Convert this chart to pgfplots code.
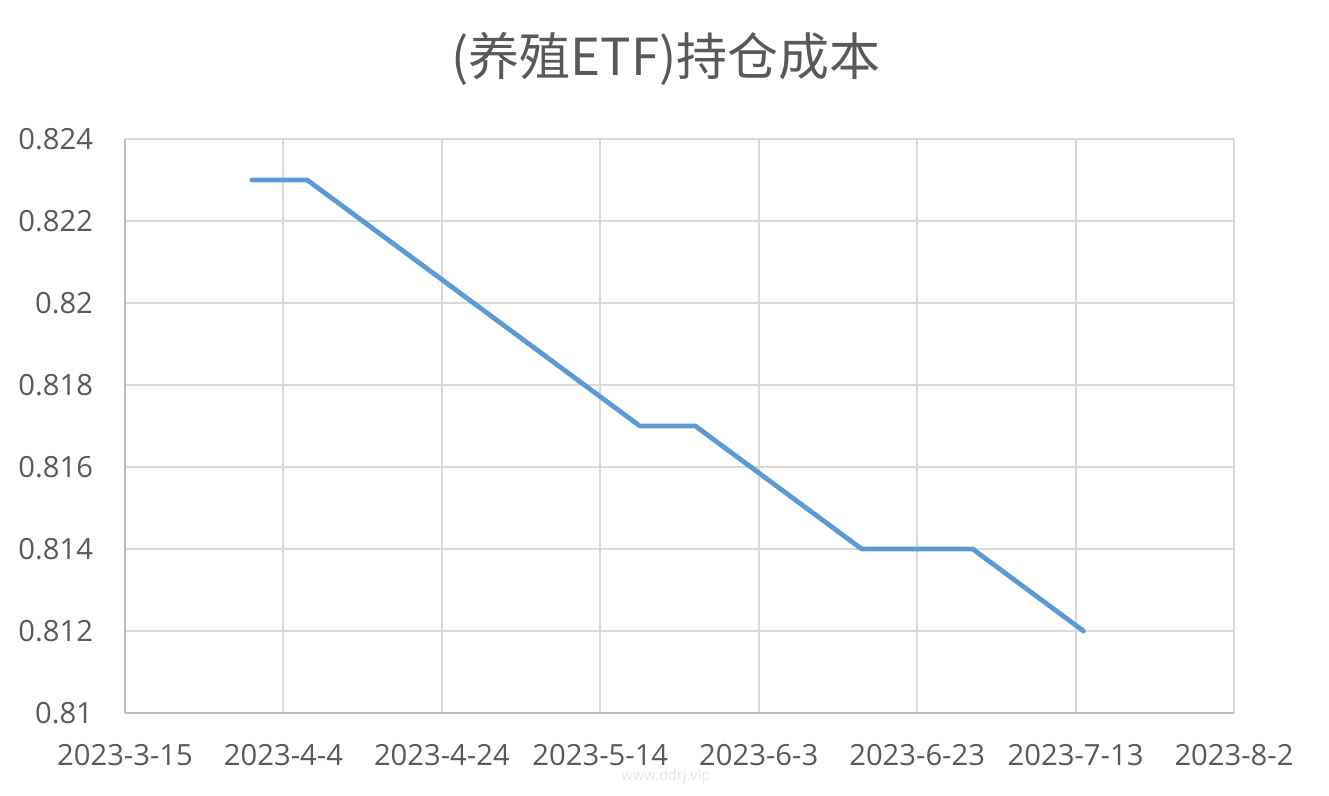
\documentclass[border=0pt]{standalone}
\usepackage{pgfplots}
\pgfplotsset{compat=1.18}
\usepackage{fontspec}
\setmainfont{Open Sans}
\newfontfamily\cjk{Noto Sans CJK SC}
\definecolor{txt}{HTML}{595959}
\definecolor{gridc}{HTML}{D9D9D9}
\definecolor{axc}{HTML}{BFBFBF}
\definecolor{line}{HTML}{5B9BD5}
\begin{document}
\begin{tikzpicture}
\useasboundingbox (-62.5pt,-41.5pt) rectangle (602pt,356.5pt);
\begin{axis}[
  at={(0,0)}, anchor=origin,
  scale only axis,
  width=554.5pt, height=287pt,
  xmin=0, xmax=140, ymin=0.81, ymax=0.824,
  xtick={0,20,...,140},
  xticklabels={2023-3-15,2023-4-4,2023-4-24,2023-5-14,2023-6-3,2023-6-23,2023-7-13,2023-8-2},
  ytick={0.81,0.812,0.814,0.816,0.818,0.82,0.822,0.824},
  yticklabels={0.81,0.812,0.814,0.816,0.818,0.82,0.822,0.824},
  grid=major,
  major grid style={gridc, line width=1pt},
  axis line style={draw=none},
  tick style={draw=none},
  tick label style={font=\fontsize{14.6}{16}\selectfont, text=txt},
  xticklabel style={yshift=-12pt},
  yticklabel style={xshift=-12.5pt},
  clip=false,
]
\addplot[line, line width=2.4pt, line join=round, line cap=round] coordinates {
 (16,0.823) (23,0.823) (65,0.817) (72,0.817) (93,0.814) (107,0.814) (121,0.812)
};
\draw[axc, line width=1pt] (axis cs:0,0.81) -- (axis cs:140,0.81);
\draw[axc, line width=1pt] (axis cs:0,0.81) -- (axis cs:0,0.824);
\end{axis}
\node[font=\cjk\fontsize{25.5}{28}\selectfont, text=txt] at (270.5pt,327pt) {(养殖ETF)持仓成本};
\node[font=\fontsize{7.3}{8}\selectfont, text=black!10] at (270.5pt,-32pt) {www.ddrj.vip};
\end{tikzpicture}
\end{document}
